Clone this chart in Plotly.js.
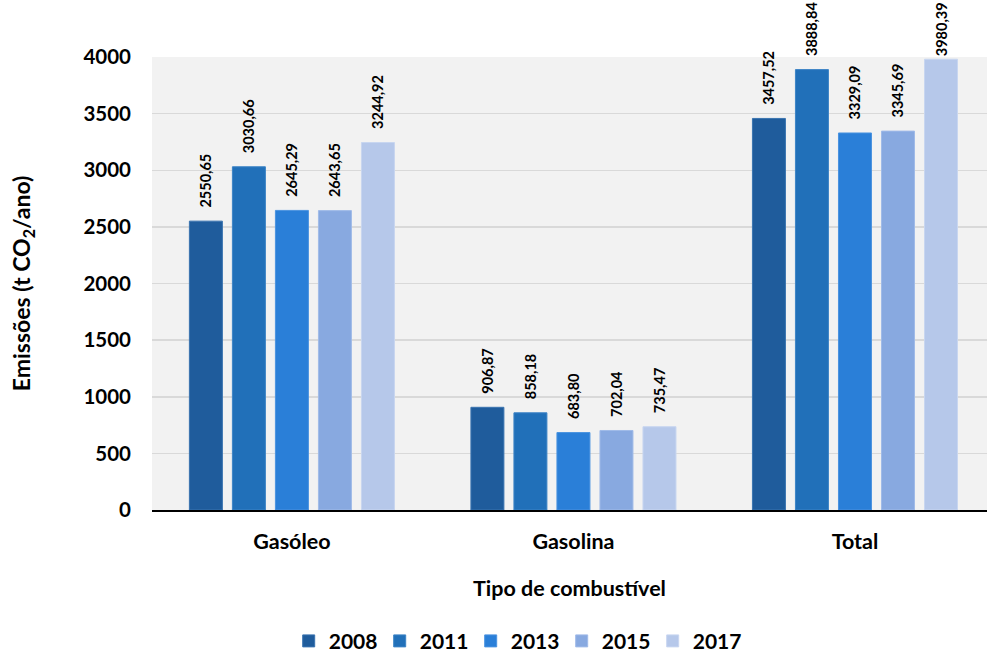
<!DOCTYPE html>
<html>
<head>
<meta charset="utf-8">
<script src="https://cdn.plot.ly/plotly-3.0.1.min.js"></script>
<style>
  html, body { margin: 0; padding: 0; background: #ffffff; }
  #chart { width: 987px; height: 657px; }
</style>
</head>
<body>
<div id="chart"></div>
<script>
// Fuel types on the category axis
const categories = ['Gasóleo', 'Gasolina', 'Total'];

// Emissions per year (t CO2/ano)
const years = ['2008', '2011', '2013', '2015', '2017'];
const values2008 = [2550.65, 906.87, 3457.52];
const values2011 = [3030.66, 858.18, 3888.84];
const values2013 = [2645.29, 683.80, 3329.09];
const values2015 = [2643.65, 702.04, 3345.69];
const values2017 = [3244.92, 735.47, 3980.39];

const seriesValues = [values2008, values2011, values2013, values2015, values2017];
const seriesColors = ['#1f5c9c', '#2170b9', '#2a7fd8', '#88a9e0', '#b6c8ea'];
const borderColors = ['#3a74b0', '#3d84c6', '#4a93e0', '#a0bbe8', '#c8d6f0'];

const FONT = 'Lato, "Open Sans", sans-serif';
const PAD = '\u00a0\u00a0\u00a0';

// Labels sit a little above each bar; the tallest one is kept inside the page
const labelTemplates = (vals) => vals.map(v => (v > 3950 ? '' : PAD) + '%{y:.2f}');

const traces = years.map((yr, i) => ({
  type: 'bar',
  name: yr,
  x: categories,
  y: seriesValues[i],
  marker: { color: seriesColors[i], line: { color: borderColors[i], width: 1 } },
  texttemplate: labelTemplates(seriesValues[i]),
  textposition: 'outside',
  textangle: -90,
  constraintext: 'none',
  cliponaxis: false,
  textfont: { family: FONT, size: 14.5, color: '#000000', weight: 'bold' },
  hoverinfo: 'skip'
}));

const layout = {
  width: 987,
  height: 657,
  margin: { l: 152, r: 0, t: 57, b: 147 },
  paper_bgcolor: '#ffffff',
  plot_bgcolor: '#f2f2f2',
  separators: ', ',
  barmode: 'group',
  bargap: 0.236,
  bargroupgap: 0.233,
  font: { family: FONT, color: '#000000' },
  xaxis: {
    type: 'category',
    range: [-0.497, 2.469],
    showline: true,
    linecolor: '#000000',
    linewidth: 2,
    showgrid: false,
    ticks: '',
    ticklabelstandoff: 11,
    tickfont: { family: FONT, size: 21.5, weight: 'bold', color: '#000000' },
    title: {
      text: 'Tipo de combustível',
      font: { family: FONT, size: 21.5, weight: 'bold', color: '#000000' },
      standoff: 28
    },
    automargin: false
  },
  yaxis: {
    range: [0, 4000],
    tickvals: [0, 500, 1000, 1500, 2000, 2500, 3000, 3500, 4000],
    ticktext: ['0', '500', '1000', '1500', '2000', '2500', '3000', '3500', '4000'],
    showgrid: true,
    gridcolor: '#d9d9d9',
    gridwidth: 1.5,
    zeroline: false,
    showline: false,
    ticks: '',
    ticklabelstandoff: 20,
    tickfont: { family: FONT, size: 20.5, weight: 'bold', color: '#000000' },
    title: {
      text: 'Emissões (t CO<sub>2</sub>/ano)',
      font: { family: FONT, size: 23, weight: 'bold', color: '#000000' },
      standoff: 46
    },
    automargin: false
  },
  showlegend: true,
  legend: {
    orientation: 'h',
    xref: 'container',
    yref: 'container',
    x: 0.523,
    xanchor: 'center',
    y: 0.024,
    yanchor: 'middle',
    entrywidth: 46,
    entrywidthmode: 'pixels',
    font: { family: FONT, size: 21, weight: 'bold', color: '#000000' },
    bgcolor: 'rgba(0,0,0,0)'
  }
};

Plotly.newPlot('chart', traces, layout, { displayModeBar: false, staticPlot: true });
</script>
</body>
</html>
